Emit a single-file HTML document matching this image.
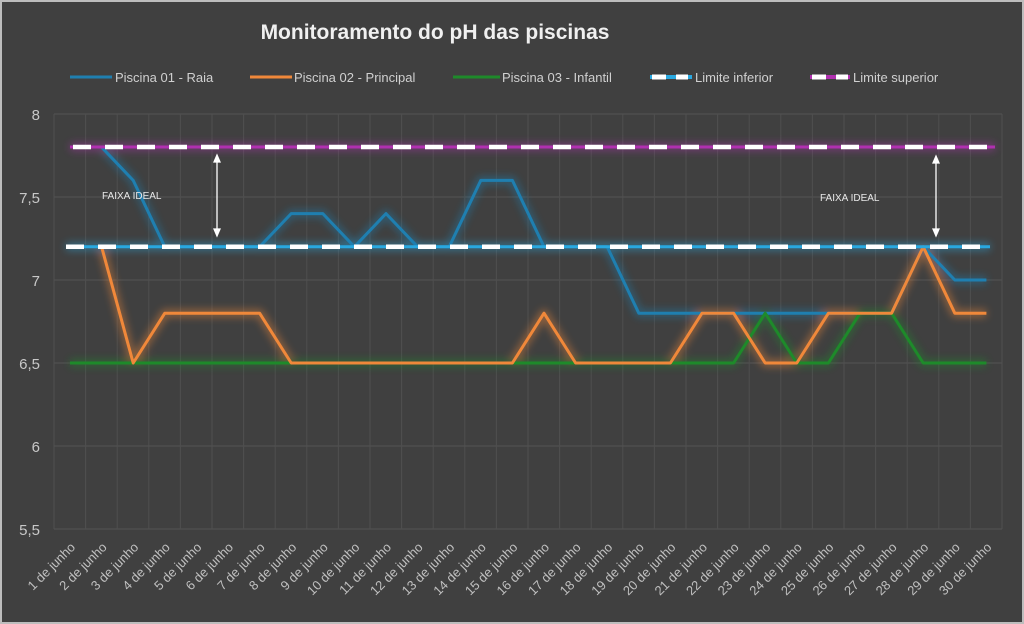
<!DOCTYPE html>
<html><head><meta charset="utf-8"><style>
html,body{margin:0;padding:0;background:#404040;}
svg{display:block;font-family:"Liberation Sans",sans-serif;}
</style></head><body>
<svg width="1024" height="624" viewBox="0 0 1024 624" xmlns="http://www.w3.org/2000/svg">
<defs>
<filter id="g" x="-10%" y="-50%" width="120%" height="200%"><feGaussianBlur stdDeviation="4"/></filter>
</defs>
<rect x="0" y="0" width="1024" height="624" fill="#bdbdbd"/>
<rect x="2" y="2" width="1020" height="620" fill="#404040"/>
<text x="435" y="39" fill="#f0f0f0" font-size="21" font-weight="bold" text-anchor="middle">Monitoramento do pH das piscinas</text>
<g font-size="13" fill="#d0d0d0">
<line x1="70" y1="77" x2="112" y2="77" stroke="#1f7fb0" stroke-width="3"/>
<text x="115" y="82">Piscina 01 - Raia</text>
<line x1="250" y1="77" x2="292" y2="77" stroke="#f0883a" stroke-width="3"/>
<text x="294" y="82">Piscina 02 - Principal</text>
<line x1="453" y1="77" x2="500" y2="77" stroke="#1e8a2a" stroke-width="3"/>
<text x="502" y="82">Piscina 03 - Infantil</text>
<line x1="650" y1="77" x2="692" y2="77" stroke="#29a8e0" stroke-width="4"/>
<line x1="652" y1="77" x2="666" y2="77" stroke="#fff" stroke-width="5"/>
<line x1="676" y1="77" x2="688" y2="77" stroke="#fff" stroke-width="5"/>
<text x="695" y="82">Limite inferior</text>
<line x1="810" y1="77" x2="850" y2="77" stroke="#b030b0" stroke-width="4"/>
<line x1="812" y1="77" x2="826" y2="77" stroke="#fff" stroke-width="5"/>
<line x1="836" y1="77" x2="848" y2="77" stroke="#fff" stroke-width="5"/>
<text x="853" y="82">Limite superior</text>
</g>
<g stroke="#555" stroke-width="1">
<line x1="54" y1="114" x2="1002" y2="114"/><line x1="54" y1="197" x2="1002" y2="197"/>
<line x1="54" y1="280" x2="1002" y2="280"/><line x1="54" y1="363" x2="1002" y2="363"/>
<line x1="54" y1="446" x2="1002" y2="446"/><line x1="54" y1="529" x2="1002" y2="529"/>
</g>
<g stroke="#4f4f4f">
<line x1="54" y1="114" x2="54" y2="529"/><line x1="85.6" y1="114" x2="85.6" y2="529"/><line x1="117.2" y1="114" x2="117.2" y2="529"/><line x1="148.8" y1="114" x2="148.8" y2="529"/><line x1="180.4" y1="114" x2="180.4" y2="529"/><line x1="212" y1="114" x2="212" y2="529"/><line x1="243.6" y1="114" x2="243.6" y2="529"/><line x1="275.2" y1="114" x2="275.2" y2="529"/><line x1="306.8" y1="114" x2="306.8" y2="529"/><line x1="338.4" y1="114" x2="338.4" y2="529"/><line x1="370" y1="114" x2="370" y2="529"/><line x1="401.6" y1="114" x2="401.6" y2="529"/><line x1="433.2" y1="114" x2="433.2" y2="529"/><line x1="464.8" y1="114" x2="464.8" y2="529"/><line x1="496.4" y1="114" x2="496.4" y2="529"/><line x1="528" y1="114" x2="528" y2="529"/><line x1="559.6" y1="114" x2="559.6" y2="529"/><line x1="591.2" y1="114" x2="591.2" y2="529"/><line x1="622.8" y1="114" x2="622.8" y2="529"/><line x1="654.4" y1="114" x2="654.4" y2="529"/><line x1="686" y1="114" x2="686" y2="529"/><line x1="717.6" y1="114" x2="717.6" y2="529"/><line x1="749.2" y1="114" x2="749.2" y2="529"/><line x1="780.8" y1="114" x2="780.8" y2="529"/><line x1="812.4" y1="114" x2="812.4" y2="529"/><line x1="844" y1="114" x2="844" y2="529"/><line x1="875.6" y1="114" x2="875.6" y2="529"/><line x1="907.2" y1="114" x2="907.2" y2="529"/><line x1="938.8" y1="114" x2="938.8" y2="529"/><line x1="970.4" y1="114" x2="970.4" y2="529"/><line x1="1002" y1="114" x2="1002" y2="529"/>
</g>
<g font-size="15" fill="#c8c8c8" text-anchor="end">
<text x="40" y="120">8</text><text x="40" y="203">7,5</text><text x="40" y="286">7</text>
<text x="40" y="369">6,5</text><text x="40" y="452">6</text><text x="40" y="535">5,5</text>
</g>
<g fill="none" stroke-width="8" opacity="0.45" filter="url(#g)" stroke-linejoin="round">
<polyline stroke="#1f7fb0" points="101.6,147.2 133.2,180.4 164.8,246.8 259.6,246.8 291.2,213.6 322.8,213.6 354.4,246.8 386,213.6 417.6,246.8 449.2,246.8 480.8,180.4 512.4,180.4 544,246.8 607.2,246.8 638.8,313.2 891.6,313.2 923.2,246.8 954.8,280 986.4,280"/>
<polyline stroke="#f0883a" points="101.6,246.8 133.2,363 164.8,313.2 259.6,313.2 291.2,363 512.4,363 544,313.2 575.6,363 670.4,363 702,313.2 733.6,313.2 765.2,363 796.8,363 828.4,313.2 891.6,313.2 923.2,246.8 954.8,313.2 986.4,313.2"/>
<polyline stroke="#1e8a2a" points="70,363 733.6,363 765.2,313.2 796.8,363 828.4,363 860,313.2 891.6,313.2 923.2,363 986.4,363"/>
<line x1="70" y1="147" x2="995" y2="147" stroke="#b030b0"/>
<line x1="66" y1="246.8" x2="990" y2="246.8" stroke="#29a8e0"/>
</g>
<g fill="none" stroke-width="3" stroke-linejoin="round">
<polyline stroke="#1f7fb0" points="101.6,147.2 133.2,180.4 164.8,246.8 259.6,246.8 291.2,213.6 322.8,213.6 354.4,246.8 386,213.6 417.6,246.8 449.2,246.8 480.8,180.4 512.4,180.4 544,246.8 607.2,246.8 638.8,313.2 891.6,313.2 923.2,246.8 954.8,280 986.4,280"/>
<polyline stroke="#1e8a2a" points="70,363 733.6,363 765.2,313.2 796.8,363 828.4,363 860,313.2 891.6,313.2 923.2,363 986.4,363"/>
<polyline stroke="#f0883a" points="101.6,246.8 133.2,363 164.8,313.2 259.6,313.2 291.2,363 512.4,363 544,313.2 575.6,363 670.4,363 702,313.2 733.6,313.2 765.2,363 796.8,363 828.4,313.2 891.6,313.2 923.2,246.8 954.8,313.2 986.4,313.2"/>
<line x1="70" y1="147" x2="995" y2="147" stroke="#b030b0" stroke-width="3"/>
<line x1="73" y1="147" x2="995" y2="147" stroke="#fff" stroke-width="4.5" stroke-dasharray="18 14"/>
<line x1="66" y1="246.8" x2="990" y2="246.8" stroke="#29a8e0" stroke-width="3"/>
<line x1="66" y1="246.8" x2="990" y2="246.8" stroke="#fff" stroke-width="4.5" stroke-dasharray="18 14"/>
</g>
<g stroke="#fff" stroke-width="1.3" fill="#fff">
<line x1="217" y1="160" x2="217" y2="231"/>
<polygon points="217,155 214,162 220,162"/><polygon points="217,236 214,229 220,229"/>
<line x1="936" y1="161" x2="936" y2="231"/>
<polygon points="936,156 933,163 939,163"/><polygon points="936,236 933,229 939,229"/>
</g>
<g font-size="10" fill="#e8e8e8">
<text x="102" y="199">FAIXA IDEAL</text>
<text x="820" y="201">FAIXA IDEAL</text>
</g>
<g font-size="13" fill="#c0c0c0" text-anchor="end">
<text transform="translate(76,548) rotate(-45)">1 de junho</text>
<text transform="translate(107.6,548) rotate(-45)">2 de junho</text>
<text transform="translate(139.2,548) rotate(-45)">3 de junho</text>
<text transform="translate(170.8,548) rotate(-45)">4 de junho</text>
<text transform="translate(202.4,548) rotate(-45)">5 de junho</text>
<text transform="translate(234,548) rotate(-45)">6 de junho</text>
<text transform="translate(265.6,548) rotate(-45)">7 de junho</text>
<text transform="translate(297.2,548) rotate(-45)">8 de junho</text>
<text transform="translate(328.8,548) rotate(-45)">9 de junho</text>
<text transform="translate(360.4,548) rotate(-45)">10 de junho</text>
<text transform="translate(392,548) rotate(-45)">11 de junho</text>
<text transform="translate(423.6,548) rotate(-45)">12 de junho</text>
<text transform="translate(455.2,548) rotate(-45)">13 de junho</text>
<text transform="translate(486.8,548) rotate(-45)">14 de junho</text>
<text transform="translate(518.4,548) rotate(-45)">15 de junho</text>
<text transform="translate(550,548) rotate(-45)">16 de junho</text>
<text transform="translate(581.6,548) rotate(-45)">17 de junho</text>
<text transform="translate(613.2,548) rotate(-45)">18 de junho</text>
<text transform="translate(644.8,548) rotate(-45)">19 de junho</text>
<text transform="translate(676.4,548) rotate(-45)">20 de junho</text>
<text transform="translate(708,548) rotate(-45)">21 de junho</text>
<text transform="translate(739.6,548) rotate(-45)">22 de junho</text>
<text transform="translate(771.2,548) rotate(-45)">23 de junho</text>
<text transform="translate(802.8,548) rotate(-45)">24 de junho</text>
<text transform="translate(834.4,548) rotate(-45)">25 de junho</text>
<text transform="translate(866,548) rotate(-45)">26 de junho</text>
<text transform="translate(897.6,548) rotate(-45)">27 de junho</text>
<text transform="translate(929.2,548) rotate(-45)">28 de junho</text>
<text transform="translate(960.8,548) rotate(-45)">29 de junho</text>
<text transform="translate(992.4,548) rotate(-45)">30 de junho</text>
</g>
</svg>
</body></html>
